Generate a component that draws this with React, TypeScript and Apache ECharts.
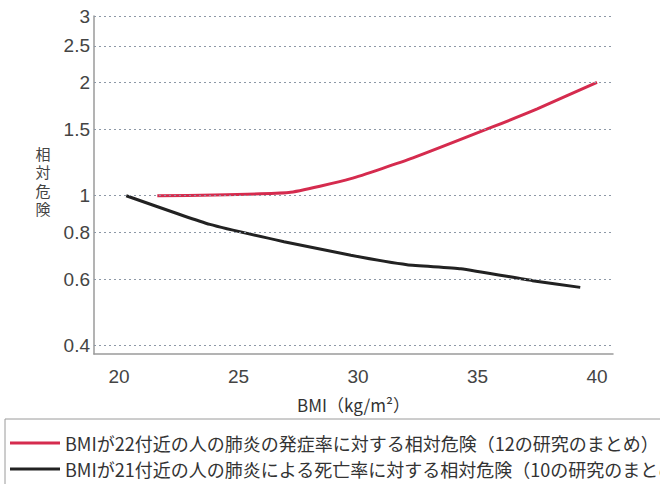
import React, { useEffect, useRef } from "react";
import * as echarts from "echarts";

// Relative risk of pneumonia by BMI (log scale)
const incidenceBmi = [21.6, 27.1, 29.7, 32.3, 35.6, 37.5, 40.0];
const incidenceRisk = [1.0, 1.02, 1.11, 1.26, 1.52, 1.7, 2.0];
const mortalityBmi = [20.3, 23.8, 26.9, 29.7, 32.05, 34.3, 37.3, 39.3];
const mortalityRisk = [1.0, 0.839, 0.755, 0.695, 0.656, 0.64, 0.595, 0.571];

const riskTicks = [0.4, 0.6, 0.8, 1, 1.5, 2, 2.5, 3];
const riskTickLabels = ["0.4", "0.6", "0.8", "1", "1.5", "2", "2.5", "3"];
const bmiTicks = [20, 25, 30, 35, 40];

const seriesNames = [
  "BMIが22付近の人の肺炎の発症率に対する相対危険（12の研究のまとめ）",
  "BMIが21付近の人の肺炎による死亡率に対する相対危険（10の研究のまとめ）",
];
const xAxisTitle = "BMI（kg/m²）";
const yAxisTitleChars = ["相", "対", "危", "険"];

const LATIN = "'Liberation Sans', 'Noto Sans', sans-serif";
const CJK = "'Noto Sans CJK JP', 'Noto Sans', sans-serif";

export default function App() {
  const ref = useRef<HTMLDivElement>(null);

  useEffect(() => {
    if (!ref.current) return;
    const chart = echarts.init(ref.current, undefined, { renderer: "svg" });

    const pairs = (xs: number[], ys: number[]) => xs.map((x, i) => [x, ys[i]]);

    chart.setOption({
      animation: false,
      backgroundColor: "#ffffff",
      grid: { left: 94, right: 47, top: 16, bottom: 130 },
      xAxis: {
        type: "value",
        min: 18.95,
        max: 40.67,
        splitNumber: 4,
        axisLine: { show: true, onZero: false, lineStyle: { color: "#9a9a9a", width: 1.5 } },
        axisTick: { show: false },
        splitLine: { show: false },
        axisLabel: {
          showMinLabel: false,
          showMaxLabel: false,
          margin: 13,
          fontSize: 19,
          color: "#444",
          fontFamily: LATIN,
          formatter: (v: number) => (bmiTicks.includes(v) ? String(v) : ""),
        },
        name: xAxisTitle,
        nameLocation: "middle",
        nameGap: 42,
        nameTextStyle: { fontSize: 17, color: "#333", fontFamily: CJK },
      },
      yAxis: {
        type: "log",
        logBase: 10,
        min: 0.38,
        max: 3,
        axisLine: { show: true, lineStyle: { color: "#9a9a9a", width: 1.5 } },
        axisTick: { show: false },
        axisLabel: { show: false },
        splitLine: { show: false },
      },
      legend: {
        data: seriesNames,
        orient: "vertical",
        left: 10,
        top: 434,
        padding: 0,
        itemWidth: 50,
        itemHeight: 3,
        itemGap: 8,
        icon: "rect",
        textStyle: { fontSize: 18, lineHeight: 18, color: "#333", fontFamily: CJK },
      },
      graphic: [
        {
          type: "rect",
          shape: { x: 5, y: 419, width: 700, height: 100 },
          style: { fill: "none", stroke: "#9a9a9a", lineWidth: 1 },
          silent: true,
        },
        // vertical axis title, one character per row
        ...yAxisTitleChars.map((ch, i) => ({
          type: "text",
          x: 43,
          y: 144 + i * 18.5,
          style: {
            text: ch,
            fontSize: 15,
            lineHeight: 18,
            fill: "#444",
            fontFamily: CJK,
            align: "center",
            verticalAlign: "top",
          },
          silent: true,
        })),
      ],
      series: [
        {
          // dotted reference lines with their values at the left
          type: "line",
          data: [],
          z: 1,
          silent: true,
          markLine: {
            silent: true,
            symbol: ["none", "none"],
            animation: false,
            lineStyle: { type: [2, 3], color: "#8d98a6", width: 1 },
            label: {
              show: true,
              position: "start",
              distance: 4,
              fontSize: 19,
              color: "#444",
              fontFamily: LATIN,
              formatter: (p: any) => riskTickLabels[riskTicks.indexOf(p.value)] ?? String(p.value),
            },
            emphasis: { disabled: true },
            data: riskTicks.map((v) => ({ yAxis: v })),
          },
        },
        {
          name: seriesNames[0],
          type: "line",
          z: 3,
          symbol: "none",
          smooth: 0.15,
          color: "#d52b4e",
          lineStyle: { color: "#d52b4e", width: 3 },
          data: pairs(incidenceBmi, incidenceRisk),
        },
        {
          name: seriesNames[1],
          type: "line",
          z: 3,
          symbol: "none",
          smooth: 0.15,
          color: "#222222",
          lineStyle: { color: "#222222", width: 3 },
          data: pairs(mortalityBmi, mortalityRisk),
        },
      ],
    });

    return () => chart.dispose();
  }, []);

  return (
    <div
      ref={ref}
      style={{ position: "fixed", left: 0, top: 0, width: 660, height: 484, background: "#fff" }}
    />
  );
}
